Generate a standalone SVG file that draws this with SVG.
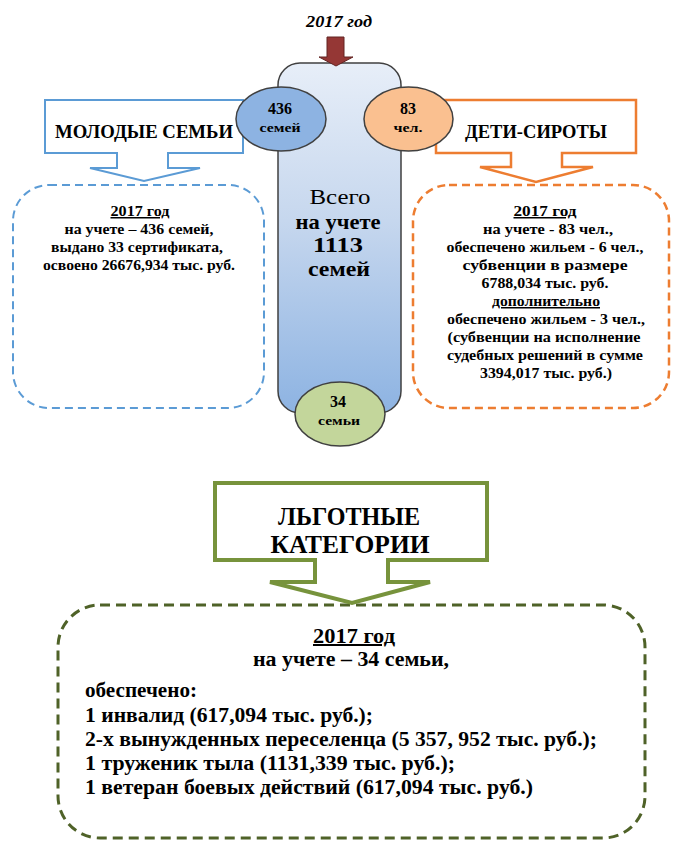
<svg xmlns="http://www.w3.org/2000/svg" width="673" height="841" viewBox="0 0 673 841" font-family="'Liberation Serif', 'Times New Roman', serif">
<style>
text{font-family:"Liberation Serif","Times New Roman",serif;font-weight:bold;fill:#000;text-anchor:middle}
.box{font-size:15px}
.big{font-size:20px}
.lbl{font-size:19px}
.mid{font-size:22px}
.left{text-anchor:start}
.u{text-decoration:underline}
.ell{stroke:#404040;stroke-width:1.5}
</style>
<defs>
<linearGradient id="colGrad" x1="0" y1="0" x2="0" y2="1">
<stop offset="0" stop-color="#e7eef8"/>
<stop offset="0.45" stop-color="#c6d7ee"/>
<stop offset="1" stop-color="#8db3e2"/>
</linearGradient>
</defs>
<rect width="673" height="841" fill="#fff"/>

<g id="young-details">
<rect x="13" y="185" width="251" height="223" rx="36" fill="#fff" stroke="#5b9bd5" stroke-width="2" stroke-dasharray="8 5"/>
<text class="box u" x="140" y="216" textLength="59" lengthAdjust="spacingAndGlyphs">2017 год</text>
<text class="box" x="139" y="234" textLength="149" lengthAdjust="spacingAndGlyphs">на учете – 436 семей,</text>
<text class="box" x="137" y="252" textLength="172" lengthAdjust="spacingAndGlyphs">выдано 33 сертификата,</text>
<text class="box" x="139" y="270" textLength="192" lengthAdjust="spacingAndGlyphs">освоено 26676,934 тыс. руб.</text>
</g>

<g id="orphans-details">
<rect x="413" y="185" width="256" height="223" rx="36" fill="#fff" stroke="#ed7d31" stroke-width="2.5" stroke-dasharray="8 5"/>
<text class="box u" x="545" y="216" textLength="63" lengthAdjust="spacingAndGlyphs">2017 год</text>
<text class="box" x="548" y="234" textLength="130" lengthAdjust="spacingAndGlyphs">на учете - 83 чел.,</text>
<text class="box" x="545" y="252" textLength="197" lengthAdjust="spacingAndGlyphs">обеспечено жильем - 6 чел.,</text>
<text class="box" x="545" y="270" textLength="165" lengthAdjust="spacingAndGlyphs">субвенции в размере</text>
<text class="box" x="545" y="288" textLength="127" lengthAdjust="spacingAndGlyphs">6788,034 тыс. руб.</text>
<text class="box u" x="546" y="306" textLength="108" lengthAdjust="spacingAndGlyphs">дополнительно</text>
<text class="box" x="546" y="324" textLength="198" lengthAdjust="spacingAndGlyphs">обеспечено жильем - 3 чел.,</text>
<text class="box" x="544" y="342" textLength="193" lengthAdjust="spacingAndGlyphs">(субвенции на исполнение</text>
<text class="box" x="545" y="360" textLength="196" lengthAdjust="spacingAndGlyphs">судебных решений в сумме</text>
<text class="box" x="546" y="378" textLength="132" lengthAdjust="spacingAndGlyphs">3394,017 тыс. руб.)</text>
</g>

<g id="benefits-details">
<rect x="58" y="605" width="587" height="233" rx="42" fill="#fff" stroke="#4f6228" stroke-width="3" stroke-dasharray="10 6"/>
<text class="big u" x="354" y="643" textLength="82" lengthAdjust="spacingAndGlyphs">2017 год</text>
<text class="big" x="351" y="666" textLength="196" lengthAdjust="spacingAndGlyphs">на учете – 34 семьи,</text>
<text class="big left" x="85" y="697" textLength="112" lengthAdjust="spacingAndGlyphs">обеспечено:</text>
<text class="big left" x="85" y="722" textLength="288" lengthAdjust="spacingAndGlyphs">1 инвалид (617,094 тыс. руб.);</text>
<text class="big left" x="85" y="746" textLength="512" lengthAdjust="spacingAndGlyphs">2-х вынужденных переселенца (5 357, 952 тыс. руб.);</text>
<text class="big left" x="85" y="770" textLength="370" lengthAdjust="spacingAndGlyphs">1 труженик тыла (1131,339 тыс. руб.);</text>
<text class="big left" x="85" y="794" textLength="448" lengthAdjust="spacingAndGlyphs">1 ветеран боевых действий (617,094 тыс. руб.)</text>
</g>

<g id="total">
<rect x="278" y="63" width="123" height="350" rx="22" fill="url(#colGrad)" stroke="#404040" stroke-width="1.5"/>
<text class="mid" x="340" y="204" style="font-weight:normal" textLength="61" lengthAdjust="spacingAndGlyphs">Всего</text>
<text class="mid" x="338" y="229" textLength="85" lengthAdjust="spacingAndGlyphs">на учете</text>
<text class="mid" x="338" y="252" textLength="50" lengthAdjust="spacingAndGlyphs">1113</text>
<text class="mid" x="339" y="276" textLength="62" lengthAdjust="spacingAndGlyphs">семей</text>
</g>

<g id="young-families">
<path d="M45,100 H243 V153 H168 V168 H200 L144,181 L90,168 H117 V153 H45 Z" fill="#fff" stroke="#5b9bd5" stroke-width="2"/>
<text class="lbl" x="144" y="138" textLength="178" lengthAdjust="spacingAndGlyphs">МОЛОДЫЕ СЕМЬИ</text>
</g>

<g id="orphans">
<path d="M436,100 H636 V153 H562 V167 H593 L536,182 L480,167 H511 V153 H436 Z" fill="#fff" stroke="#ed7d31" stroke-width="2.5"/>
<text class="lbl" x="536" y="138" textLength="142" lengthAdjust="spacingAndGlyphs">ДЕТИ-СИРОТЫ</text>
</g>

<g id="benefits">
<path d="M215,483 H487 V560 H388 V582 H430 L352,603 L270,582 H315 V560 H215 Z" fill="#fff" stroke="#77933c" stroke-width="4"/>
<text x="349" y="525" style="font-size:25px" textLength="142" lengthAdjust="spacingAndGlyphs">ЛЬГОТНЫЕ</text>
<text x="350" y="553" style="font-size:25px" textLength="159" lengthAdjust="spacingAndGlyphs">КАТЕГОРИИ</text>
</g>

<g id="count-young">
<ellipse class="ell" cx="281" cy="119" rx="45" ry="32" fill="#8db3e2"/>
<text x="280" y="114" style="font-size:16px">436</text>
<text x="280" y="132" style="font-size:13px" textLength="41" lengthAdjust="spacingAndGlyphs">семей</text>
</g>

<g id="count-orphans">
<ellipse class="ell" cx="408.5" cy="119" rx="44.5" ry="32" fill="#fac090"/>
<text x="408" y="114" style="font-size:16px">83</text>
<text x="408" y="132" style="font-size:13px" textLength="29" lengthAdjust="spacingAndGlyphs">чел.</text>
</g>

<g id="count-benefits">
<ellipse class="ell" cx="340" cy="414" rx="45" ry="32" fill="#c3d69b"/>
<text x="338" y="407" style="font-size:16px">34</text>
<text x="339" y="425" style="font-size:13px" textLength="42" lengthAdjust="spacingAndGlyphs">семьи</text>
</g>

<g id="year">
<text x="339" y="27" style="font-size:17px;font-style:italic" textLength="66" lengthAdjust="spacingAndGlyphs">2017 год</text>
</g>

<g id="connectors">
<path d="M327,37 H344 V57 H353 L336,66 L319,57 H327 Z" fill="#953735" stroke="#632523" stroke-width="1"/>
</g>
</svg>
